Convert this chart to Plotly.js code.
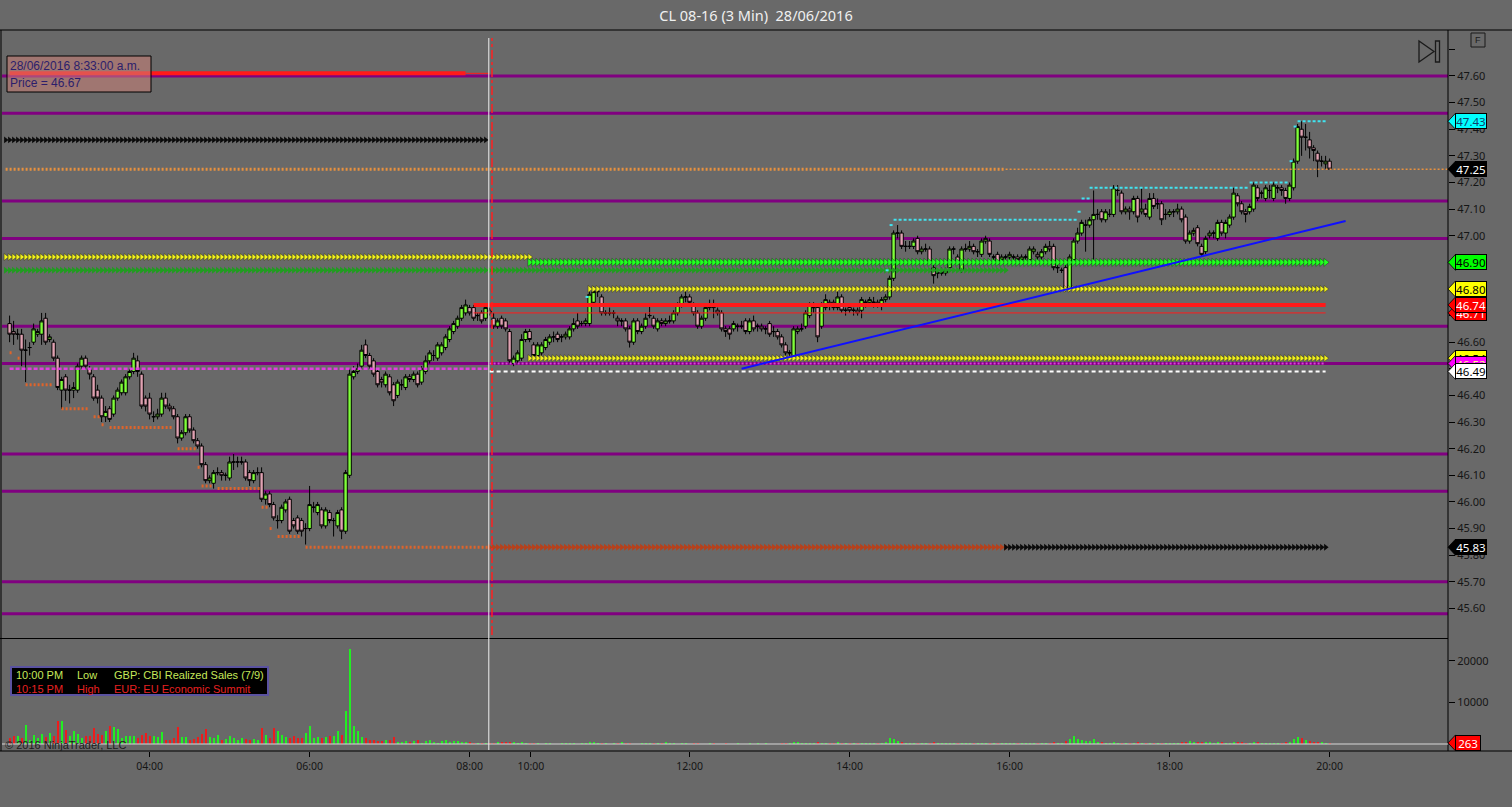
<!DOCTYPE html>
<html><head><meta charset="utf-8">
<script src="https://cdn.plot.ly/plotly-3.0.1.min.js"></script>
<style>html,body{margin:0;padding:0;background:#696969;overflow:hidden}#chart{width:1512px;height:807px}</style>
</head><body><div id="chart"></div>
<script>
// ---------------- DATA ----------------
const chartTitle = 'CL 08-16 (3 Min)\u00a0\u00a028/06/2016';
const startBar = -35;
// [open, high, low, close] per 3-min bar
const ohlcRows = [
[46.67,46.70,46.60,46.63],[46.64,46.68,46.59,46.63],[46.63,46.65,46.61,46.63],[46.63,46.65,46.51,46.57],[46.57,46.61,46.45,46.57],
[46.58,46.60,46.55,46.58],[46.60,46.67,46.59,46.65],[46.63,46.65,46.62,46.64],[46.63,46.71,46.59,46.68],[46.69,46.71,46.59,46.60],
[46.61,46.63,46.60,46.62],[46.60,46.61,46.53,46.54],[46.54,46.55,46.42,46.43],[46.42,46.47,46.35,46.46],[46.47,46.48,46.38,46.42],
[46.42,46.44,46.37,46.42],[46.42,46.45,46.39,46.43],[46.42,46.52,46.41,46.51],[46.51,46.55,46.50,46.54],[46.54,46.55,46.50,46.51],
[46.50,46.51,46.46,46.48],[46.47,46.48,46.38,46.39],[46.42,46.44,46.37,46.39],[46.39,46.40,46.30,46.32],[46.32,46.36,46.30,46.34],
[46.35,46.36,46.30,46.31],[46.33,46.40,46.32,46.39],[46.39,46.43,46.38,46.42],[46.41,46.46,46.40,46.45],[46.41,46.48,46.40,46.47],
[46.47,46.50,46.46,46.49],[46.49,46.56,46.48,46.54],[46.53,46.55,46.47,46.49],[46.48,46.49,46.35,46.36],[46.39,46.40,46.34,46.36],
[46.39,46.41,46.31,46.33],[46.32,46.34,46.30,46.32],[46.32,46.35,46.31,46.33],[46.33,46.41,46.32,46.39],[46.39,46.41,46.35,46.36],
[46.36,46.37,46.34,46.35],[46.35,46.36,46.31,46.32],[46.32,46.33,46.22,46.24],[46.24,46.27,46.23,46.26],[46.26,46.33,46.25,46.32],
[46.32,46.33,46.26,46.27],[46.27,46.28,46.22,46.23],[46.23,46.24,46.20,46.21],[46.21,46.22,46.13,46.14],[46.14,46.15,46.07,46.08],
[46.08,46.10,46.07,46.09],[46.07,46.12,46.05,46.11],[46.11,46.13,46.10,46.11],[46.11,46.12,46.08,46.10],[46.10,46.11,46.08,46.10],
[46.09,46.17,46.08,46.15],[46.15,46.18,46.12,46.15],[46.15,46.17,46.13,46.15],[46.15,46.17,46.14,46.15],[46.15,46.16,46.08,46.09],
[46.11,46.12,46.06,46.08],[46.08,46.12,46.07,46.11],[46.11,46.13,46.10,46.11],[46.11,46.13,46.00,46.01],[46.01,46.04,45.99,46.03],
[46.03,46.04,45.98,45.99],[45.99,46.00,45.93,45.94],[45.93,45.95,45.90,45.93],[45.93,45.99,45.92,45.98],[45.97,46.01,45.96,46.00],
[46.01,46.02,45.88,45.89],[45.93,45.94,45.90,45.91],[45.94,45.95,45.88,45.89],[45.93,45.94,45.87,45.89],[45.90,45.92,45.84,45.90],
[45.90,46.06,45.89,45.99],[45.98,46.00,45.96,45.98],[45.96,46.00,45.95,45.99],[45.97,45.98,45.90,45.91],[45.91,45.98,45.90,45.97],
[45.96,45.97,45.92,45.93],[45.93,45.94,45.87,45.93],[45.91,45.97,45.90,45.96],[45.97,45.98,45.86,45.89],[45.89,46.12,45.88,46.11],
[46.10,46.50,46.09,46.48],[46.47,46.51,46.46,46.49],[46.49,46.52,46.48,46.50],[46.51,46.59,46.50,46.57],[46.59,46.61,46.54,46.55],
[46.55,46.56,46.50,46.51],[46.53,46.54,46.47,46.48],[46.49,46.50,46.43,46.44],[46.46,46.47,46.43,46.45],[46.44,46.49,46.43,46.48],
[46.47,46.48,46.40,46.41],[46.44,46.45,46.36,46.38],[46.40,46.46,46.39,46.45],[46.44,46.46,46.42,46.44],[46.43,46.48,46.42,46.47],
[46.47,46.48,46.45,46.46],[46.46,46.49,46.45,46.48],[46.48,46.49,46.43,46.44],[46.45,46.51,46.44,46.50],[46.49,46.55,46.48,46.53],
[46.53,46.57,46.52,46.56],[46.55,46.57,46.53,46.55],[46.54,46.60,46.53,46.59],[46.56,46.60,46.55,46.59],[46.58,46.63,46.57,46.62],
[46.61,46.66,46.60,46.65],[46.64,46.68,46.63,46.67],[46.66,46.70,46.65,46.69],[46.69,46.74,46.68,46.73],[46.71,46.76,46.70,46.74],
[46.73,46.74,46.70,46.71],[46.73,46.74,46.68,46.69],[46.70,46.71,46.68,46.70],[46.71,46.72,46.67,46.68],[46.69,46.74,46.68,46.73],
[46.72,46.73,46.70,46.71],[46.69,46.71,46.65,46.66],[46.66,46.69,46.65,46.68],[46.69,46.70,46.65,46.66],[46.68,46.69,46.64,46.65],
[46.64,46.65,46.52,46.53],[46.52,46.55,46.51,46.54],[46.53,46.57,46.52,46.56],[46.54,46.63,46.53,46.61],[46.61,46.65,46.60,46.64],
[46.64,46.65,46.60,46.61],[46.59,46.60,46.54,46.55],[46.55,46.60,46.54,46.59],[46.56,46.60,46.55,46.59],[46.58,46.62,46.57,46.61],
[46.60,46.63,46.59,46.62],[46.62,46.64,46.60,46.62],[46.63,46.64,46.60,46.61],[46.62,46.63,46.60,46.62],[46.62,46.64,46.61,46.63],
[46.62,46.66,46.61,46.65],[46.65,46.69,46.64,46.67],[46.68,46.71,46.65,46.66],[46.67,46.68,46.66,46.67],[46.67,46.69,46.66,46.68],
[46.67,46.79,46.66,46.78],[46.75,46.81,46.74,46.79],[46.79,46.80,46.77,46.79],[46.77,46.78,46.70,46.71],[46.71,46.72,46.70,46.71],
[46.71,46.73,46.70,46.71],[46.71,46.72,46.69,46.71],[46.69,46.70,46.66,46.68],[46.68,46.69,46.66,46.68],[46.68,46.69,46.64,46.65],
[46.65,46.66,46.58,46.60],[46.60,46.69,46.59,46.68],[46.68,46.69,46.63,46.64],[46.64,46.67,46.63,46.66],[46.66,46.71,46.65,46.69],
[46.70,46.74,46.69,46.70],[46.69,46.70,46.65,46.66],[46.65,46.69,46.64,46.68],[46.68,46.69,46.66,46.67],[46.67,46.69,46.66,46.68],
[46.68,46.70,46.67,46.68],[46.68,46.72,46.67,46.71],[46.71,46.75,46.70,46.74],[46.74,46.78,46.73,46.77],[46.77,46.79,46.75,46.77],
[46.77,46.78,46.74,46.75],[46.74,46.75,46.70,46.71],[46.71,46.72,46.65,46.66],[46.66,46.70,46.65,46.69],[46.69,46.74,46.68,46.73],
[46.73,46.76,46.72,46.74],[46.74,46.76,46.69,46.73],[46.72,46.73,46.70,46.71],[46.71,46.72,46.64,46.65],[46.65,46.66,46.62,46.64],
[46.65,46.66,46.61,46.63],[46.65,46.68,46.64,46.67],[46.66,46.67,46.64,46.66],[46.66,46.68,46.65,46.66],[46.68,46.69,46.63,46.64],
[46.64,46.69,46.63,46.68],[46.68,46.70,46.64,46.65],[46.66,46.67,46.64,46.66],[46.66,46.67,46.64,46.65],[46.65,46.66,46.63,46.65],
[46.67,46.68,46.62,46.63],[46.64,46.66,46.62,46.64],[46.64,46.65,46.61,46.62],[46.62,46.63,46.58,46.59],[46.59,46.60,46.55,46.56],
[46.56,46.57,46.54,46.56],[46.55,46.66,46.54,46.65],[46.64,46.66,46.63,46.65],[46.65,46.67,46.64,46.65],[46.66,46.72,46.65,46.71],
[46.70,46.75,46.69,46.74],[46.73,46.75,46.71,46.73],[46.73,46.74,46.60,46.62],[46.66,46.75,46.65,46.74],[46.73,46.78,46.72,46.76],
[46.75,46.76,46.72,46.74],[46.75,46.76,46.72,46.73],[46.73,46.79,46.72,46.77],[46.77,46.78,46.71,46.72],[46.72,46.73,46.70,46.72],
[46.73,46.74,46.71,46.72],[46.72,46.73,46.70,46.72],[46.72,46.73,46.70,46.71],[46.72,46.77,46.69,46.76],[46.75,46.76,46.73,46.75],
[46.75,46.77,46.74,46.76],[46.75,46.77,46.73,46.75],[46.75,46.76,46.73,46.74],[46.74,46.77,46.72,46.76],[46.76,46.78,46.75,46.77],
[46.77,46.85,46.76,46.84],[46.84,47.02,46.83,47.01],[47.01,47.04,46.99,47.01],[47.01,47.02,46.95,46.96],[46.96,46.98,46.94,46.96],
[46.96,46.98,46.95,46.96],[46.96,46.99,46.95,46.98],[46.99,47.00,46.93,46.94],[46.94,46.96,46.93,46.95],[46.95,46.97,46.94,46.95],
[46.95,46.96,46.89,46.90],[46.88,46.89,46.82,46.85],[46.86,46.87,46.84,46.86],[46.86,46.88,46.85,46.86],[46.86,46.88,46.85,46.87],
[46.88,46.96,46.87,46.95],[46.95,46.96,46.93,46.95],[46.92,46.93,46.89,46.90],[46.87,46.96,46.86,46.95],[46.95,46.97,46.94,46.95],
[46.95,46.98,46.94,46.96],[46.96,46.97,46.93,46.94],[46.94,46.95,46.92,46.94],[46.93,46.99,46.92,46.98],[46.98,47.00,46.97,46.99],
[46.98,46.99,46.92,46.93],[46.92,46.93,46.90,46.92],[46.93,46.94,46.89,46.90],[46.91,46.93,46.90,46.92],[46.92,46.93,46.91,46.92],
[46.92,46.94,46.91,46.93],[46.92,46.93,46.91,46.92],[46.92,46.93,46.90,46.91],[46.91,46.93,46.90,46.92],[46.92,46.93,46.90,46.92],
[46.91,46.96,46.90,46.95],[46.94,46.96,46.93,46.95],[46.93,46.94,46.91,46.92],[46.92,46.95,46.91,46.94],[46.94,46.97,46.93,46.96],
[46.96,46.98,46.94,46.95],[46.96,46.97,46.87,46.88],[46.88,46.89,46.86,46.88],[46.87,46.88,46.86,46.87],[46.88,46.89,46.79,46.80],
[46.80,46.93,46.79,46.92],[46.91,46.99,46.90,46.98],[46.98,47.03,46.97,47.01],[47.01,47.06,47.00,47.05],[47.04,47.06,46.94,47.04],
[47.04,47.07,47.03,47.06],[47.06,47.17,46.91,47.08],[47.08,47.10,47.06,47.08],[47.09,47.10,47.05,47.06],[47.06,47.10,47.05,47.09],
[47.08,47.10,47.07,47.08],[47.08,47.19,47.07,47.18],[47.17,47.19,47.15,47.17],[47.16,47.17,47.08,47.09],[47.09,47.11,47.08,47.10],
[47.10,47.11,47.06,47.09],[47.09,47.15,47.08,47.14],[47.14,47.15,47.05,47.07],[47.09,47.18,47.08,47.10],[47.10,47.12,47.07,47.08],
[47.07,47.16,47.06,47.14],[47.14,47.16,47.10,47.11],[47.12,47.14,47.10,47.12],[47.12,47.13,47.04,47.06],[47.08,47.10,47.06,47.08],
[47.08,47.10,47.07,47.09],[47.09,47.10,47.07,47.09],[47.09,47.12,47.08,47.10],[47.10,47.11,47.05,47.06],[47.07,47.08,46.97,46.98],
[46.98,47.02,46.97,47.01],[47.01,47.03,47.00,47.02],[47.03,47.04,46.96,46.97],[46.96,46.97,46.92,46.93],[46.94,47.00,46.93,46.99],
[47.00,47.02,46.99,47.01],[47.01,47.02,46.99,47.01],[46.99,47.06,46.98,47.05],[47.05,47.06,47.00,47.01],[47.01,47.06,46.99,47.05],
[47.04,47.08,47.03,47.07],[47.07,47.18,47.06,47.16],[47.15,47.16,47.11,47.12],[47.12,47.13,47.08,47.09],[47.09,47.10,47.05,47.08],
[47.09,47.12,47.08,47.11],[47.10,47.20,47.09,47.19],[47.18,47.19,47.13,47.14],[47.16,47.17,47.14,47.16],[47.14,47.19,47.13,47.18],
[47.17,47.19,47.14,47.17],[47.14,47.20,47.13,47.19],[47.18,47.19,47.16,47.18],[47.18,47.19,47.15,47.17],[47.17,47.18,47.12,47.14],
[47.14,47.20,47.13,47.19],[47.18,47.29,47.17,47.28],[47.28,47.42,47.27,47.41],[47.40,47.43,47.30,47.37],[47.37,47.42,47.32,47.37],
[47.36,47.39,47.29,47.33],[47.33,47.34,47.28,47.32],[47.31,47.32,47.22,47.28],[47.28,47.30,47.26,47.28],[47.27,47.30,47.25,47.28],
[47.28,47.29,47.25,47.25]
];
const volume = [
1440,1840,1840,1440,4640,1040,2240,1440,2480,1680,
2640,1840,5440,5600,3440,1840,3040,2480,1440,1840,
1840,3840,2480,2240,3040,4400,4080,3600,1440,1840,
1840,1840,1440,2240,2640,2000,1840,1680,2800,1040,
1040,1440,4080,1680,1680,1040,1200,1680,2480,3600,
1680,1440,2240,1040,1200,1840,1440,1040,1440,1200,
1040,1200,880,3840,2240,1440,3840,3040,2240,1680,
1440,1840,1440,1440,2640,4240,1440,1680,1440,1680,
1840,1840,3040,2240,8000,22800,
4240,3040,1680,1440,1040,1040,640,640,1040,880,
1600,480,480,640,480,800,880,240,640,880,
480,240,640,880,480,640,640,480,480,480,
240,240,240,240,240,
300,420,500,380,520,460,300,380,260,200,
180,150,120,160,140,100,120,150,180,140,
160,120,150,200,380,460,260,180,140,120,
150,130,520,180,140,120,100,150,160,140,
130,180,160,480,200,150,120,180,140,120,
130,150,120,100,140,180,120,110,130,100,
120,140,110,100,150,120,130,110,140,120,
110,100,130,150,180,420,380,300,260,340,
280,420,360,300,260,340,400,260,220,300,
280,260,340,220,200,260,240,300,420,1400,
1200,620,380,300,260,240,280,300,240,220,
420,260,240,200,320,260,220,340,260,240,
200,180,260,300,280,220,200,180,160,200,
180,160,200,220,260,240,200,180,220,240,
420,300,260,620,1300,1900,1200,900,700,820,
1100,600,420,360,300,480,340,300,260,280,
300,380,320,260,300,260,240,300,220,260,
280,320,380,560,620,480,380,420,500,440,
360,420,380,340,300,560,420,380,300,340,
420,380,300,280,320,260,300,340,380,600,
1200,1700,1400,1000,700,500,420,380,300,263
];
const timeTickBars = [0, 40, 80, 95.3, 135, 175, 215, 255, 295];
const timeTickLabels = ['04:00','06:00','08:00','10:00','12:00','14:00','16:00','18:00','20:00'];
const priceTicks = [45.6,45.7,45.8,45.9,46.0,46.1,46.2,46.3,46.4,46.5,46.6,46.7,46.8,46.9,47.0,47.1,47.2,47.3,47.4,47.5,47.6,47.7];
const volTicks = [10000, 20000];
const purpleLevels = [47.60, 47.46, 47.13, 46.99, 46.66, 46.52, 46.18, 46.04, 45.70, 45.58];
// [price, fromBar, toBar(, toBar2)]
const prevHighLine   = [47.61, -35, 79, 85];
const blackArrowsTop = [47.36, -36, 84];
const orangeDots     = [47.25, -36, 214, 325];
const yellowArrowsA  = [46.92, -36, 95];
const darkGreenArrow = [46.87, -36, 214];
const greenArrows    = [46.90, 95, 294];
const yellowArrowsB  = [46.80, 110, 294];
const redLevel       = [46.74, 81, 294];
const redThinLevel   = [46.71, 81, 294];
const yellowArrowsC  = [46.54, 95, 294];
const magentaLeft    = [46.50, -35, 85];
const magentaRight   = [46.52, 85, 294];
const whiteLevel     = [46.49, 85, 294];
const lowArrows      = [45.83, 85, 214, 294];
const cyanSteps = [[46.77,109,110],[46.87,184,185],[47.04,185,186],[47.06,186,232],[47.09,232,233],[47.14,233,235],[47.18,235,275],[47.20,275,285],[47.28,285,286],[47.41,286,287],[47.43,287,294]];
const orangeSteps = [[46.56,-35,-34],[46.54,-33,-32],[46.44,-31,-24],[46.35,-22,-15],[46.32,-14,-12],[46.29,-12,-11],[46.28,-10,6],[46.20,7,12],[46.13,12,13],[46.06,13,16],[46.05,17,28],[45.98,28,30],[45.90,30,31],[45.87,32,38],[45.83,39,85]];
const trendLine = [[148, 46.50], [299, 47.055]];
const cursorBar = 84.8;
const cursorTime = '28/06/2016 8:33:00 a.m.';
const cursorPrice = 46.67;
const newsTimes = ['10:00 PM', '10:15 PM'];
const newsImpact = ['Low', 'High'];
const newsEvents = ['GBP: CBI Realized Sales (7/9)', 'EUR: EU Economic Summit'];
const copyright = '\u00a9 2016 NinjaTrader, LLC';

// ---------------- BUILD ----------------
const idx = ohlcRows.map((r, k) => startBar + k);
const open = ohlcRows.map(r => r[0]), high = ohlcRows.map(r => r[1]), low = ohlcRows.map(r => r[2]), close = ohlcRows.map(r => r[3]);
const volColor = close.map((c, k) => c >= open[k] ? '#22ee22' : '#ee1c1c');

const PX_W = 1446, PX_H = 720;                 // plot area size
const px = x => (x - 2) / PX_W;                 // UI overlay helpers (pixel -> paper)
const py = y => (751 - y) / PX_H;
const priceRange = [45.489, 47.769];
const volRange = [-1680, 24980];
const pricePerPx = (priceRange[1] - priceRange[0]) / 607;
const volPerPx = (volRange[1] - volRange[0]) / 111;

const traces = [];
function lineTrace(y, x0, x1, color, width, dash) {
  traces.push({type:'scatter', mode:'lines', x:[x0, x1], y:[y, y], line:{color, width, dash: dash || 'solid'}, hoverinfo:'skip', xaxis:'x', yaxis:'y'});
}
function arrowTrace(y, x0, x1, color, size, outline) {
  const xs = []; for (let b = x0; b <= x1; b++) xs.push(b);
  traces.push({type:'scatter', mode:'markers', x:xs, y:xs.map(() => y), marker:{symbol:'triangle-right', size: size || 6, color, line:{width: outline ? 0.6 : 0, color:'rgba(0,0,0,0.55)'}}, hoverinfo:'skip', xaxis:'x', yaxis:'y'});
}
function stepTrace(rows, color, width, dash) {
  const xs = [], ys = [];
  rows.forEach(r => { xs.push(r[1], r[2], null); ys.push(r[0], r[0], null); });
  traces.push({type:'scatter', mode:'lines', x:xs, y:ys, line:{color, width, dash}, hoverinfo:'skip', connectgaps:false});
}

// levels under candles
lineTrace(prevHighLine[0], prevHighLine[1], prevHighLine[2], '#ff1a1a', 4);
lineTrace(prevHighLine[0], prevHighLine[2], prevHighLine[3], '#ff1a1a', 1);
arrowTrace(blackArrowsTop[0], blackArrowsTop[1], blackArrowsTop[2], '#0a0a0a', 6);
lineTrace(orangeDots[0], orangeDots[1], orangeDots[2], '#e8913f', 3, '2px,2px');
lineTrace(orangeDots[0], orangeDots[2], orangeDots[3], '#e8913f', 1.5, '2px,2px');
arrowTrace(yellowArrowsA[0], yellowArrowsA[1], yellowArrowsA[2], '#f0f020', 6, true);
arrowTrace(darkGreenArrow[0], darkGreenArrow[1], darkGreenArrow[2], '#1e9e1e', 6);
arrowTrace(greenArrows[0], greenArrows[1], greenArrows[2], '#22ff22', 7, true);
arrowTrace(yellowArrowsB[0], yellowArrowsB[1], yellowArrowsB[2], '#f0f020', 6, true);
arrowTrace(yellowArrowsC[0], yellowArrowsC[1], yellowArrowsC[2], '#f0f020', 6, true);
lineTrace(redLevel[0], redLevel[1], redLevel[2], '#ff1a1a', 4);
lineTrace(redThinLevel[0], redThinLevel[1], redThinLevel[2], '#ff1a1a', 1);
lineTrace(magentaLeft[0], magentaLeft[1], magentaLeft[2], '#e040e0', 2.5, '4px,2px');
lineTrace(magentaRight[0], magentaRight[1], magentaRight[2], '#d848d8', 2, '2px,2px');
lineTrace(whiteLevel[0], whiteLevel[1], whiteLevel[2], '#ffffff', 2, '4px,3px');
arrowTrace(lowArrows[0], lowArrows[1], lowArrows[2], '#b8401a', 6);
arrowTrace(lowArrows[0], lowArrows[2], lowArrows[3], '#0a0a0a', 6);
stepTrace(orangeSteps, '#e0642a', 3, '2px,2px');
stepTrace(cyanSteps, '#40e4f0', 2, '3px,2px');

traces.push({type:'candlestick', x:idx, open, high, low, close, xaxis:'x', yaxis:'y',
  increasing:{fillcolor:'#80ff3a', line:{color:'#000000', width:1}},
  decreasing:{fillcolor:'#e0a2b2', line:{color:'#000000', width:1}},
  whiskerwidth:0, hoverinfo:'skip'});

traces.push({type:'scatter', mode:'lines', x:trendLine.map(p => p[0]), y:trendLine.map(p => p[1]), line:{color:'#1010ff', width:2}, hoverinfo:'skip'});

traces.push({type:'bar', x:idx, y:volume, xaxis:'x', yaxis:'y2', width:0.5, marker:{color:volColor, line:{width:0}}, hoverinfo:'skip'});

// ---------------- SHAPES ----------------
const shapes = [];
purpleLevels.forEach(p => shapes.push({type:'line', xref:'paper', yref:'y', x0:0, x1:1, y0:p, y1:p, line:{color:'#800080', width:3}, layer:'below'}));
// frame
const frame = {color:'#000000', width:1};
shapes.push({type:'line', xref:'paper', yref:'paper', x0:px(0), x1:px(1512), y0:py(30), y1:py(30), line:frame});
shapes.push({type:'line', xref:'paper', yref:'paper', x0:px(1), x1:px(1), y0:py(751), y1:py(30), line:frame});
shapes.push({type:'line', xref:'paper', yref:'paper', x0:1, x1:1, y0:py(751), y1:py(30), line:frame});
shapes.push({type:'line', xref:'paper', yref:'paper', x0:px(0), x1:1, y0:py(638.5), y1:py(638.5), line:frame});
shapes.push({type:'line', xref:'paper', yref:'paper', x0:px(0), x1:px(1512), y0:py(751), y1:py(751), line:frame});
// volume baseline
shapes.push({type:'line', xref:'paper', yref:'y2', x0:0, x1:1, y0:0, y1:0, line:{color:'#d8d8d8', width:1}});
// cursor
shapes.push({type:'line', xref:'x', yref:'paper', x0:cursorBar, x1:cursorBar, y0:py(750), y1:py(38), line:{color:'#f0f0f0', width:1}});
shapes.push({type:'line', xref:'x', yref:'paper', x0:cursorBar + 0.8, x1:cursorBar + 0.8, y0:py(635), y1:py(38), line:{color:'#ff2020', width:1.5, dash:'dashdot'}});
// info box
shapes.push({type:'rect', xref:'paper', yref:'paper', x0:px(7), x1:px(151), y0:py(92), y1:py(56), fillcolor:'rgba(205,130,120,0.55)', line:{color:'#000', width:1}});
// news box
shapes.push({type:'rect', xref:'paper', yref:'paper', x0:px(11), x1:px(268), y0:py(695), y1:py(667), fillcolor:'#000000', line:{color:'#5a52a0', width:2}});
// F box and end icon
shapes.push({type:'rect', xref:'paper', yref:'paper', x0:px(1471), x1:px(1485), y0:py(47), y1:py(33), line:{color:'#1a1a1a', width:1}});
shapes.push({type:'path', xref:'paper', yref:'paper', path:`M ${px(1419)},${py(41)} L ${px(1419)},${py(62)} L ${px(1434)},${py(51.5)} Z`, line:{color:'#1a1a1a', width:1.3}});
shapes.push({type:'rect', xref:'paper', yref:'paper', x0:px(1435.5), x1:px(1439.5), y0:py(62), y1:py(41), line:{color:'#1a1a1a', width:1.3}});

// ---------------- ANNOTATIONS ----------------
const annotations = [];
annotations.push({xref:'paper', yref:'paper', x:px(8), y:py(66), xanchor:'left', yanchor:'middle', showarrow:false, text:cursorTime, font:{family:'Liberation Sans, Arial, sans-serif', size:12, color:'#2c1e6c'}});
annotations.push({xref:'paper', yref:'paper', x:px(8), y:py(83), xanchor:'left', yanchor:'middle', showarrow:false, text:'Price = ' + cursorPrice.toFixed(2), font:{family:'Liberation Sans, Arial, sans-serif', size:12, color:'#2c1e6c'}});
const newsColors = ['#c6e85a', '#e82020'];
[675, 689].forEach((yy, k) => {
  [[14, newsTimes[k]], [75, newsImpact[k]], [112, newsEvents[k]]].forEach(c => {
    annotations.push({xref:'paper', yref:'paper', x:px(c[0]), y:py(yy), xanchor:'left', yanchor:'middle', showarrow:false, text:c[1], font:{family:'Liberation Sans, Arial, sans-serif', size:11, color:newsColors[k]}});
  });
});
annotations.push({xref:'paper', yref:'paper', x:px(3), y:py(745), xanchor:'left', yanchor:'middle', showarrow:false, text:copyright, font:{family:'Liberation Sans, Arial, sans-serif', size:11, color:'#202020'}});
annotations.push({xref:'paper', yref:'paper', x:px(1478), y:py(40), xanchor:'center', yanchor:'middle', showarrow:false, text:'F', font:{family:'Liberation Sans, Arial, sans-serif', size:9, color:'#1a1a1a'}});

function priceTag(val, yref, bg, fg, w) {
  const hu = 8 * (yref === 'y' ? pricePerPx : volPerPx);
  shapes.push({type:'path', xref:'paper', yref, path:`M 1,${val} L ${1 + 7.5 / PX_W},${val + hu} L ${1 + 7.5 / PX_W},${val - hu} Z`, fillcolor:bg, line:{color:'#000', width:0.8}, layer:'above'});
  annotations.push({xref:'paper', yref, x:1, xshift:7, y:val, xanchor:'left', yanchor:'middle', showarrow:false,
    text: yref === 'y' ? val.toFixed(2) : String(val), bgcolor:bg, bordercolor:'#000', borderwidth:1, borderpad:0, width:w || 30, height:14,
    font:{family:'Noto Sans, Liberation Sans, sans-serif', size:11.5, color:fg}});
}
priceTag(Math.max(...high), 'y', '#00ffff', '#10406a');
priceTag(close[close.length - 1], 'y', '#000000', '#ffffff');
priceTag(greenArrows[0], 'y', '#00ff00', '#000000');
priceTag(yellowArrowsB[0], 'y', '#ffff00', '#000000');
priceTag(redThinLevel[0], 'y', '#ff0000', '#ffffff');
priceTag(redLevel[0], 'y', '#ff0000', '#ffffff');
priceTag(yellowArrowsC[0], 'y', '#ffff00', '#000000');
priceTag(magentaRight[0], 'y', '#ff00ff', '#ffff80');
priceTag(whiteLevel[0], 'y', '#ffffff', '#000000');
priceTag(lowArrows[0], 'y', '#000000', '#ffffff');
priceTag(volume[volume.length - 1], 'y2', '#ff0000', '#ffffff', 24);

// ---------------- LAYOUT ----------------
const tickFont = {family:'Noto Sans, Liberation Sans, sans-serif', size:11, color:'#151515'};
const layout = {
  width:1512, height:807, margin:{l:2, r:64, t:31, b:56, pad:0},
  paper_bgcolor:'#696969', plot_bgcolor:'#696969', showlegend:false, hovermode:false,
  title:{text:chartTitle, x:0.5, xref:'container', xanchor:'center', y:1 - 16 / 807, yref:'container', yanchor:'middle',
    font:{family:'Noto Sans, Liberation Sans, sans-serif', size:14.5, color:'#f0f0f0'}},
  xaxis:{range:[-36.9, 324.6], anchor:'y2', tickmode:'array', tickvals:timeTickBars, ticktext:timeTickLabels,
    ticks:'outside', ticklen:5, tickcolor:'#000', tickwidth:1, tickfont:{family:'Noto Sans, Liberation Sans, sans-serif', size:10.5, color:'#151515'},
    showgrid:false, zeroline:false, showline:false, rangeslider:{visible:false}, fixedrange:true},
  yaxis:{domain:[0.157, 1], range:priceRange, side:'right', anchor:'x', tickmode:'array', tickvals:priceTicks,
    ticktext:priceTicks.map(v => v > 47.65 ? '' : v.toFixed(2)), ticks:'outside', ticklen:6, tickcolor:'#000', tickwidth:1,
    tickfont:tickFont, showgrid:false, zeroline:false, showline:false, fixedrange:true},
  yaxis2:{domain:[0, 0.154], range:volRange, side:'right', anchor:'x', tickmode:'array', tickvals:volTicks,
    ticktext:volTicks.map(String), ticks:'outside', ticklen:6, tickcolor:'#000', tickwidth:1,
    tickfont:tickFont, showgrid:false, zeroline:false, showline:false, fixedrange:true},
  bargap:0, boxgap:0.05, boxgroupgap:0.1, shapes, annotations
};
Plotly.newPlot('chart', traces, layout, {staticPlot:true, displayModeBar:false});
</script>
</body></html>
